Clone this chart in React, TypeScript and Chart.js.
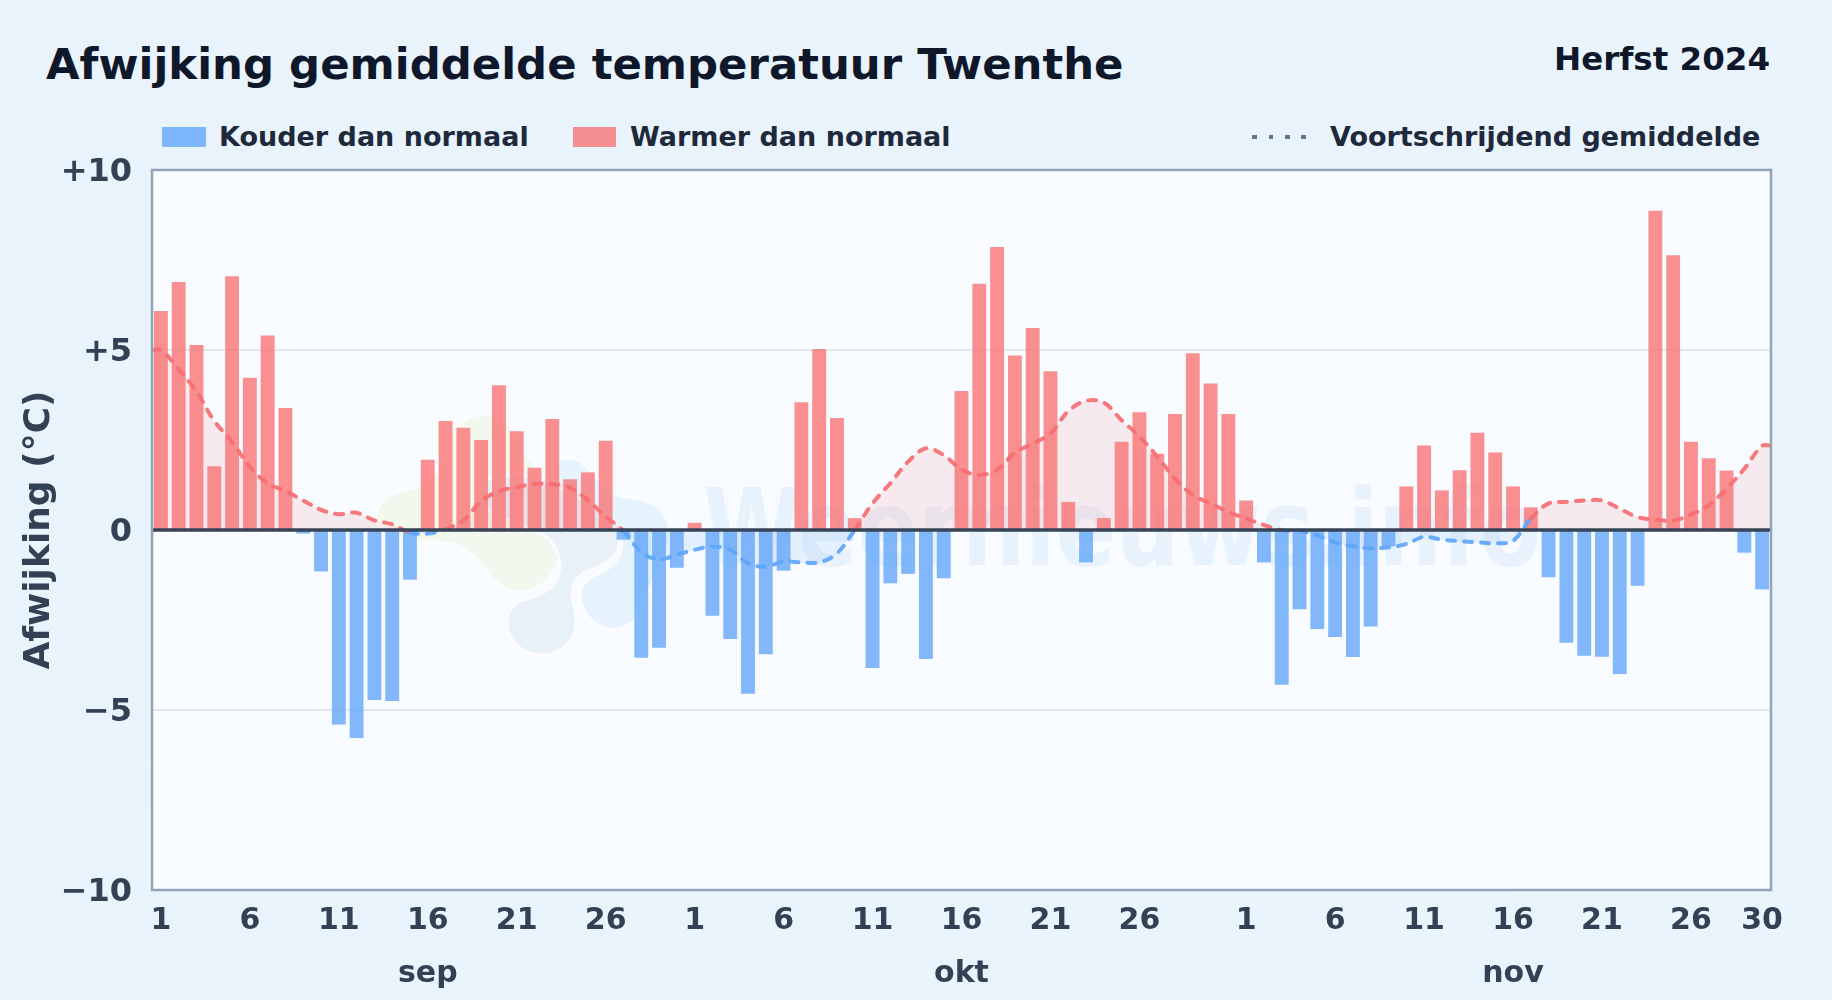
import React, { useEffect, useRef } from "react";
import { Chart, registerables } from "chart.js";

Chart.register(...registerables);

const FONT = "'DejaVu Sans'";

const MONTH_AT: Record<number, string> = { 15: "sep", 45: "okt", 76: "nov" };
const DAY_LABELS = [
  "1","2","3","4","5","6","7","8","9","10","11","12","13","14","15","16","17","18","19","20","21","22","23","24","25","26","27","28","29","30",
  "1","2","3","4","5","6","7","8","9","10","11","12","13","14","15","16","17","18","19","20","21","22","23","24","25","26","27","28","29","30","31",
  "1","2","3","4","5","6","7","8","9","10","11","12","13","14","15","16","17","18","19","20","21","22","23","24","25","26","27","28","29","30",
];
const SHOWN_TICKS = [0,5,10,15,20,25,30,35,40,45,50,55,61,66,71,76,81,86,90];

const anomalySep = [6.08,6.89,5.14,1.77,7.05,4.23,5.4,3.39,-0.1,-1.15,-5.4,-5.78,-4.72,-4.75,-1.38,1.95,3.03,2.84,2.5,4.02,2.74,1.73,3.08,1.41,1.6,2.48,-0.27,-3.55,-3.27,-1.05];
const anomalyOkt = [0.2,-2.38,-3.03,-4.55,-3.45,-1.13,3.55,5.03,3.11,0.33,-3.83,-1.48,-1.22,-3.58,-1.34,3.86,6.84,7.86,4.85,5.61,4.41,0.78,-0.9,0.33,2.45,3.27,2.12,3.22,4.91,4.07,3.22];
const anomalyNov = [0.82,-0.9,-4.3,-2.2,-2.75,-2.97,-3.53,-2.68,-0.45,1.21,2.35,1.1,1.66,2.7,2.15,1.21,0.63,-1.31,-3.13,-3.49,-3.52,-4.0,-1.55,8.87,7.63,2.45,1.99,1.65,-0.63,-1.65];

const smoothSep = [5.0,4.47,3.85,3.03,2.45,1.75,1.3,1.08,0.82,0.56,0.44,0.48,0.27,0.16,-0.07,-0.1,0.02,0.27,0.8,1.08,1.19,1.28,1.28,1.17,0.83,0.37,-0.02,-0.62,-0.82,-0.69];
const smoothOkt = [-0.55,-0.46,-0.55,-0.93,-1.02,-0.88,-0.9,-0.9,-0.65,0.0,0.74,1.3,1.9,2.27,2.08,1.68,1.53,1.67,2.15,2.4,2.68,3.3,3.59,3.54,3.05,2.6,2.04,1.43,0.97,0.74,0.5];
const smoothNov = [0.32,0.14,-0.01,-0.02,-0.15,-0.35,-0.45,-0.51,-0.48,-0.39,-0.19,-0.27,-0.31,-0.34,-0.37,-0.3,0.32,0.74,0.78,0.82,0.82,0.59,0.36,0.29,0.26,0.43,0.69,1.15,1.7,2.34];

const anomaly = [...anomalySep, ...anomalyOkt, ...anomalyNov];
const smooth = [...smoothSep, ...smoothOkt, ...smoothNov];

// Watermark logo outlines, as (x, y) in a 3x crop whose origin is (380, 390) on the page.
const LOGO_GREEN = [[0,340],[60,305],[120,295],[190,240],[220,110],[300,70],[390,95],[420,180],[520,300],[540,430],[530,530],[480,590],[400,610],[330,560],[290,490],[210,450],[110,455],[30,430],[-10,390]];
const LOGO_GREY = [[300,270],[430,255],[560,290],[680,350],[715,430],[710,490],[650,530],[590,550],[565,610],[590,690],[565,765],[490,798],[410,770],[378,700],[405,640],[470,625],[530,590],[550,520],[520,440],[420,400],[310,350]];
const LOGO_BLUE = [[520,215],[590,205],[640,260],[700,325],[800,330],[860,380],[870,450],[840,530],[800,600],[770,690],[700,722],[630,690],[598,620],[620,570],[700,535],[735,480],[720,420],[650,340],[530,290]];

const RED_BAR = "rgba(248,113,113,0.78)";
const BLUE_BAR = "rgba(96,165,250,0.78)";
const RED_LINE = "rgba(246,110,113,0.92)";
const BLUE_LINE = "rgba(96,165,250,0.92)";

function smoothBlob(ctx: CanvasRenderingContext2D, pts: number[][]) {
  const p = pts.map(([x, y]) => [380 + x / 3, 390 + y / 3]);
  const mid = (a: number[], b: number[]) => [(a[0] + b[0]) / 2, (a[1] + b[1]) / 2];
  ctx.beginPath();
  const start = mid(p[p.length - 1], p[0]);
  ctx.moveTo(start[0], start[1]);
  p.forEach((pt, i) => {
    const m = mid(pt, p[(i + 1) % p.length]);
    ctx.quadraticCurveTo(pt[0], pt[1], m[0], m[1]);
  });
  ctx.closePath();
}

const frame = {
  id: "frame",
  beforeDraw(chart: any) {
    const { ctx, chartArea: a, scales } = chart;
    ctx.save();
    ctx.fillStyle = "#f8fbff";
    ctx.fillRect(a.left, a.top, a.width, a.height);
    ctx.restore();
    // nudge the value-axis labels down so they sit as in the reference
    const items = scales.y.getLabelItems(a);
    if (!items.nudged) {
      items.forEach((it: any) => {
        it.textOffset += 3;
      });
      items.nudged = true;
    }
  },
  beforeDatasetsDraw(chart: any) {
    const { ctx, chartArea: a } = chart;
    ctx.save();
    ctx.beginPath();
    ctx.rect(a.left, a.top, a.width, a.height);
    ctx.clip();
    ctx.lineJoin = "round";
    const draw = (pts: number[][], c: string) => {
      smoothBlob(ctx, pts);
      ctx.fillStyle = c;
      ctx.strokeStyle = "rgba(250,252,255,0.9)";
      ctx.lineWidth = 7;
      ctx.stroke();
      ctx.fill();
    };
    draw(LOGO_GREEN, "#f3f8ee");
    draw(LOGO_GREY, "#e8f0f8");
    draw(LOGO_BLUE, "#e6f3fd");
    ctx.font = `bold 107px ${FONT}`;
    ctx.fillStyle = "rgba(175,208,240,0.21)";
    ctx.textBaseline = "alphabetic";
    ctx.textAlign = "left";
    ctx.fillText("Weernieuws.info", 703, 565, 838);
    ctx.restore();
  },
  afterDatasetsDraw(chart: any) {
    const { ctx, chartArea: a, scales } = chart;
    const y0 = scales.y.getPixelForValue(0);
    ctx.save();
    ctx.strokeStyle = "#374357";
    ctx.lineWidth = 3.5;
    ctx.beginPath();
    ctx.moveTo(a.left, y0);
    ctx.lineTo(a.right, y0);
    ctx.stroke();
    ctx.strokeStyle = "#94a3b8";
    ctx.lineWidth = 2.5;
    ctx.strokeRect(a.left, a.top, a.width, a.height);
    ctx.restore();
  },
};

const abs = (left: number, top: number): React.CSSProperties => ({
  position: "absolute",
  left,
  top,
  whiteSpace: "nowrap",
  fontFamily: FONT,
  fontWeight: 700,
});

function LegendText({ x, children }: { x: number; children: string }) {
  return (
    <div style={{ ...abs(x, 121), fontSize: 27, lineHeight: "32px", color: "#1e293b" }}>{children}</div>
  );
}

export default function App() {
  const ref = useRef<HTMLCanvasElement>(null);
  useEffect(() => {
    document.body.style.margin = "0";
    const linePoints = [
      { x: -0.5, y: smooth[0] },
      ...smooth.map((y, x) => ({ x, y })),
      { x: smooth.length - 0.5, y: smooth[smooth.length - 1] },
    ];
    const chart = new Chart(ref.current as HTMLCanvasElement, {
      data: {
        labels: DAY_LABELS,
        datasets: [
          {
            type: "line",
            label: "Voortschrijdend gemiddelde",
            data: linePoints as any,
            xAxisID: "xl",
            yAxisID: "y",
            order: 1,
            borderWidth: 4,
            borderDash: [8, 9],
            borderCapStyle: "round",
            tension: 0.35,
            pointRadius: 0,
            fill: { target: "origin", above: "rgba(248,113,113,0.12)", below: "rgba(96,165,250,0.12)" },
            borderColor: RED_LINE,
            segment: {
              borderColor: (c: any) => (c.p0.parsed.y < 0 ? BLUE_LINE : RED_LINE),
            },
          } as any,
          {
            type: "bar",
            label: "Kouder dan normaal",
            data: anomaly.map((v) => (v < 0 ? v : null)),
            backgroundColor: BLUE_BAR,
            grouped: false,
            order: 2,
            barPercentage: 0.78,
            categoryPercentage: 1,
            xAxisID: "x",
            yAxisID: "y",
          } as any,
          {
            type: "bar",
            label: "Warmer dan normaal",
            data: anomaly.map((v) => (v >= 0 ? v : null)),
            backgroundColor: RED_BAR,
            grouped: false,
            order: 2,
            barPercentage: 0.78,
            categoryPercentage: 1,
            xAxisID: "x",
            yAxisID: "y",
          } as any,
        ],
      },
      options: {
        responsive: false,
        animation: false,
        layout: { padding: { left: 0, right: 61, top: 170, bottom: 0 } },
        plugins: { legend: { display: false }, title: { display: false }, tooltip: { enabled: false } },
        scales: {
          x: {
            type: "category",
            offset: true,
            grid: { display: false },
            border: { display: false },
            afterFit(s: any) {
              s.height = 110;
            },
            ticks: {
              autoSkip: false,
              maxRotation: 0,
              minRotation: 0,
              padding: -3,
              color: "#334155",
              font: { family: FONT, weight: "bold", size: 30, lineHeight: 1.77 },
              callback(_v: any, i: number) {
                if (!SHOWN_TICKS.includes(i)) return "";
                return MONTH_AT[i] ? [DAY_LABELS[i], MONTH_AT[i]] : DAY_LABELS[i];
              },
            },
          },
          xl: { type: "linear", display: false, min: -0.5, max: 90.5 },
          y: {
            min: -10,
            max: 10,
            afterFit(s: any) {
              s.width = 152;
            },
            border: { display: false },
            grid: { color: "#e2e8f0", lineWidth: 2, drawTicks: false },
            title: {
              display: true,
              text: "Afwijking (°C)",
              color: "#334155",
              font: { family: FONT, weight: "bold", size: 36 },
              padding: { top: 18, bottom: 0 },
            },
            ticks: {
              stepSize: 5,
              padding: 20,
              color: "#334155",
              font: { family: FONT, weight: "bold", size: 32 },
              callback(v: any) {
                const n = Number(v);
                return n > 0 ? `+${n}` : n < 0 ? `\u2212${-n}` : "0";
              },
            },
          },
        },
      },
      plugins: [frame],
    } as any);
    return () => chart.destroy();
  }, []);

  return (
    <div
      style={{
        position: "relative",
        width: 1832,
        height: 1000,
        overflow: "hidden",
        background: "linear-gradient(135deg,#e8f3fc,#eaf4fc)",
      }}
    >
      <div style={{ ...abs(46, 38), fontSize: 43.4, lineHeight: "52px", color: "#0f172a" }}>
        Afwijking gemiddelde temperatuur Twenthe
      </div>
      <div style={{ ...abs(0, 40), left: "auto", right: 62, fontSize: 32.5, lineHeight: "38px", color: "#0f172a" }}>
        Herfst 2024
      </div>
      <div style={{ position: "absolute", left: 162, top: 127, width: 44, height: 20, background: BLUE_BAR }} />
      <LegendText x={219}>Kouder dan normaal</LegendText>
      <div style={{ position: "absolute", left: 573, top: 127, width: 43, height: 20, background: RED_BAR }} />
      <LegendText x={630}>Warmer dan normaal</LegendText>
      <div
        style={{
          position: "absolute",
          left: 1252,
          top: 135,
          width: 55,
          height: 4,
          background: "repeating-linear-gradient(90deg,#64748b 0 5px,transparent 5px 16.5px)",
        }}
      />
      <LegendText x={1330}>Voortschrijdend gemiddelde</LegendText>
      <canvas ref={ref} width={1832} height={1000} style={{ position: "absolute", left: 0, top: 0, display: "block" }} />
    </div>
  );
}
